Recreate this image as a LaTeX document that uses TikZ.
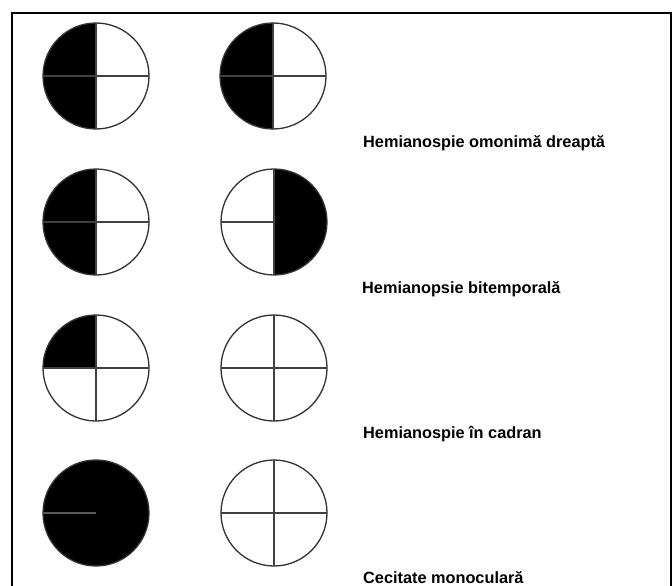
\documentclass[tikz,border=0pt]{standalone}
\usepackage{fontspec}
\setmainfont{Liberation Sans}
\usetikzlibrary{calc}
\begin{document}
\begin{tikzpicture}[x=1pt,y=-1pt,
  frame/.style={line width=2pt,black},
  rim/.style={line width=1.3pt,draw=black!80},
  cross/.style={line width=1.3pt,draw=black!75},
  blind/.style={fill=black},
  caption/.style={anchor=base west,inner sep=0pt,
    font=\fontsize{16.3}{19}\selectfont\bfseries}]
\useasboundingbox (0,0) rectangle (672,586);
\fill[white] (0,0) rectangle (672,586);
% outer frame
\draw[frame] (12,586) -- (12,13) -- (670.5,13) -- (670.5,586);

\def\R{53}
% centres of the fields of view
\coordinate (a1) at (96,76);   \coordinate (b1) at (273,76);
\coordinate (a2) at (96,222);  \coordinate (b2) at (274,222);
\coordinate (a3) at (96,368);  \coordinate (b3) at (274,368);
\coordinate (a4) at (96,513);  \coordinate (b4) at (274,513);

% white discs
\foreach \c in {a1,b1,a2,b2,a3,b3,a4,b4}
  \fill[white] (\c) circle[radius=\R];

% blind parts
\fill[blind] (a1) -- ++(0,-\R) arc[start angle=270,end angle=90,radius=\R] -- cycle;
\fill[blind] (b1) -- ++(0,-\R) arc[start angle=270,end angle=90,radius=\R] -- cycle;
\fill[blind] (a2) -- ++(0,-\R) arc[start angle=270,end angle=90,radius=\R] -- cycle;
\fill[blind] (b2) -- ++(0,-\R) arc[start angle=-90,end angle=90,radius=\R] -- cycle;
\fill[blind] (a3) -- ++(-\R,0) arc[start angle=180,end angle=270,radius=\R] -- cycle;
\fill[blind] (a4) circle[radius=\R];

% meridians
\foreach \c in {a1,b1,a2,a3,b3,b4} {
  \draw[cross] ($(\c)+(-\R,0)$) -- ($(\c)+(\R,0)$);
  \draw[cross] ($(\c)+(0,-\R)$) -- ($(\c)+(0,\R)$);
}
\draw[cross] ($(b2)+(-\R,0)$) -- (b2);
\draw[cross] ($(b2)+(0,-\R)$) -- ($(b2)+(0,\R)$);
\draw[line width=1.3pt,draw=black!65] ($(a4)+(-\R,0)$) -- (a4);

% outlines
\foreach \c in {a1,b1,a2,b2,a3,b3,a4,b4}
  \draw[rim] (\c) circle[radius=\R];

% captions
\node[caption] (t1) at (363,147) {Hemianospie omonimă dreaptă};
\node[caption] (t2) at (362,293) {Hemianopsie bitemporală};
\node[caption] (t3) at (363,438) {Hemianospie în cadran};
\node[caption] (t4) at (363,583) {Cecitate monoculară};
\end{tikzpicture}
\end{document}
